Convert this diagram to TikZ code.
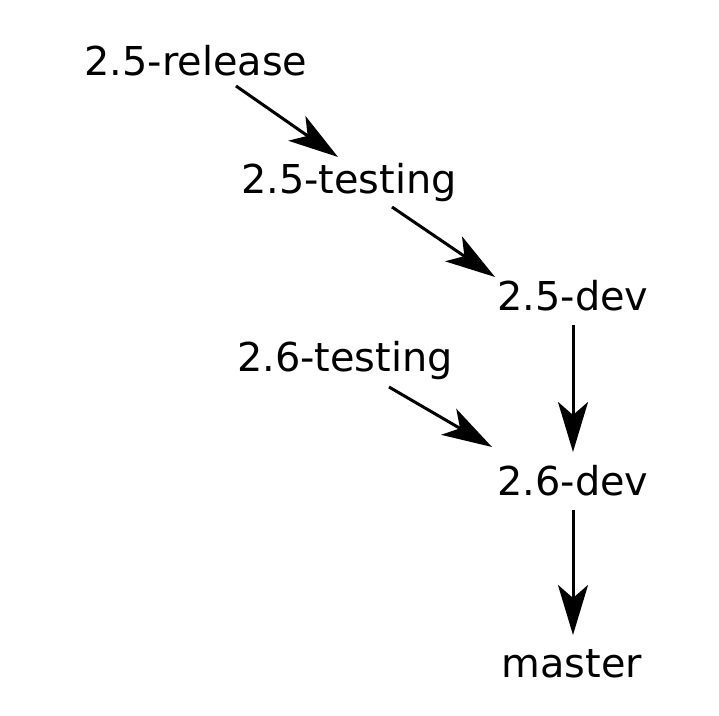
\documentclass[tikz,border=0pt]{standalone}
\usepackage{fontspec}
\setmainfont{DejaVu Sans}
\usetikzlibrary{arrows.meta}

\begin{document}
\begin{tikzpicture}[
            x=0.5pt, y=-0.5pt,
            every node/.style={ inner sep=0pt, anchor=base, font=\fontsize{19.9}{24}\selectfont },
            branch/.style={ -{Stealth[length=25pt, width=15pt, inset=6.5pt]}, line width=1.5pt }
        ]
        \useasboundingbox (0,0) rectangle (719,716);

        \node (rel25) at (196,76)  {2.5-release};
        \node (tst25) at (349,194) {2.5-testing};
        \node (dev25) at (573,311) {2.5-dev};
        \node (tst26) at (345,372) {2.6-testing};
        \node (dev26) at (573,496) {2.6-dev};
        \node (mst)   at (572,678) {master};

        \draw [branch] ([shift={(40,10)}]rel25.base) -- ([shift={(-11,-37)}]tst25.base);
        \draw [branch] ([shift={(43,13)}]tst25.base) -- ([shift={(-78,-34)}]dev25.base);
        \draw [branch] ([shift={(0,14)}]dev25.base)  -- ([shift={(0,-44)}]dev26.base);
        \draw [branch] ([shift={(44,15)}]tst26.base) -- ([shift={(-81,-49)}]dev26.base);
        \draw [branch] ([shift={(0,14)}]dev26.base)  -- ([shift={(1,-43)}]mst.base);
    \end{tikzpicture}
\end{document}
